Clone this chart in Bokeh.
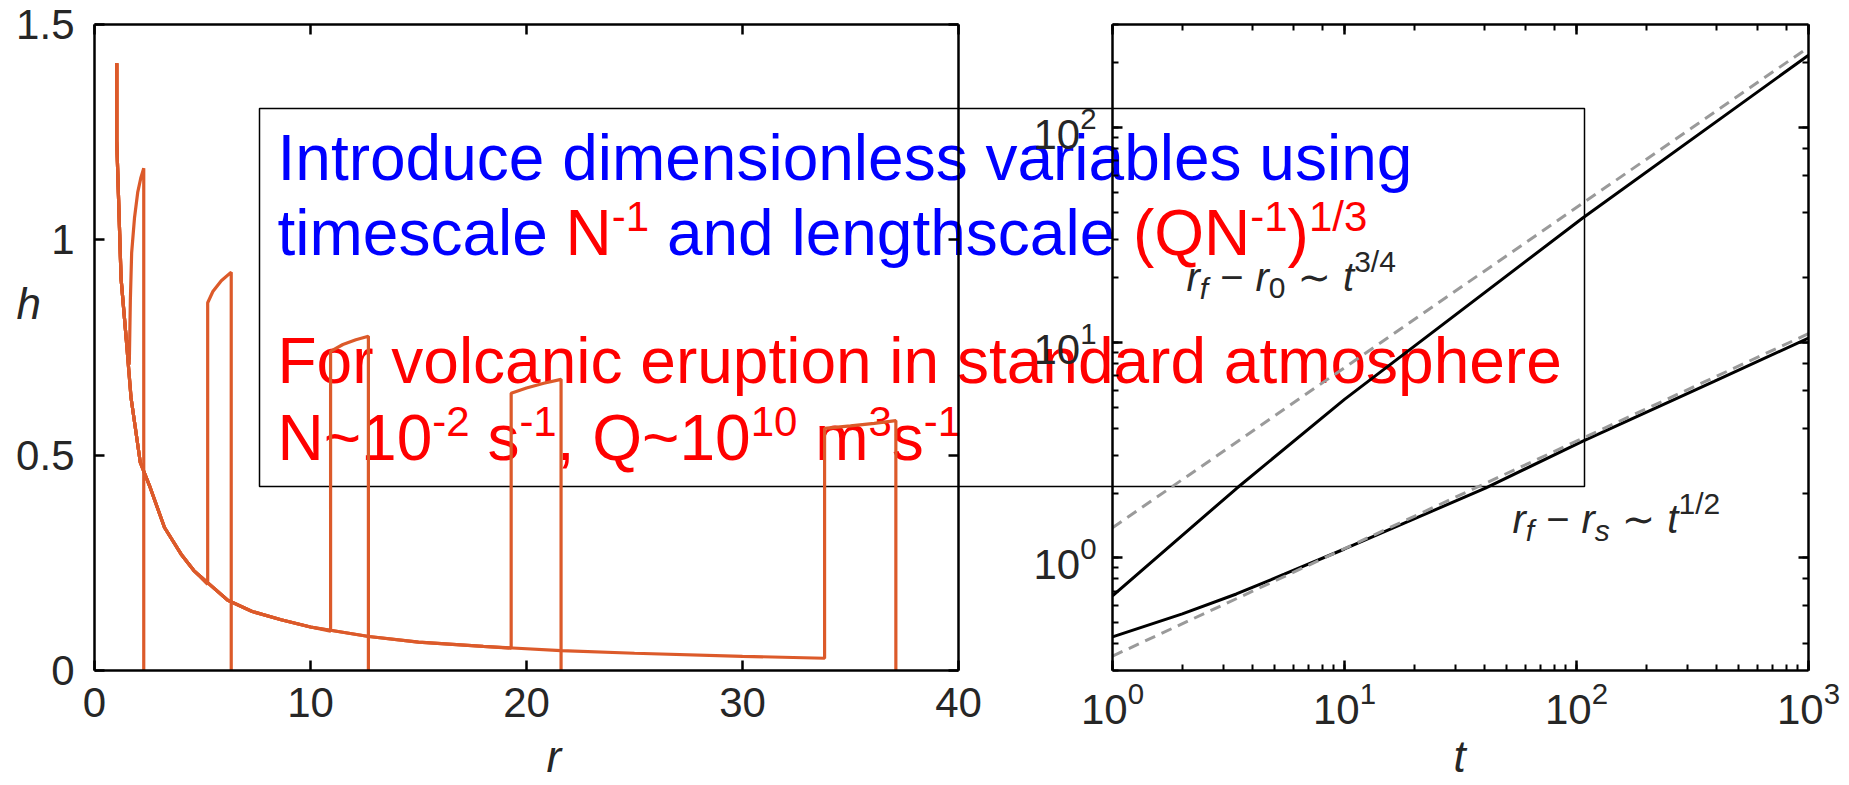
import math
from bokeh.plotting import figure
from bokeh.models import (Range1d, LinearAxis, LogAxis, LogTicker, FixedTicker,
                          Label, BoxAnnotation)
from bokeh.embed import file_html
from bokeh.resources import INLINE

# ---------------- left panel: thickness h against radius r ----------------
# outflow region shared by every snapshot (behind the shock)
tail_r = [1.03, 1.03, 1.23, 1.46, 1.69, 1.92, 2.12, 2.54, 3.24, 4.01, 4.6,
          6.17, 7.3, 8.64, 10.0, 12.7, 15.0, 18.0, 21.6, 25.0, 30.0]
tail_h = [1.41, 1.23, 0.91, 0.775, 0.634, 0.553, 0.483, 0.43, 0.332, 0.27, 0.232,
          0.163, 0.137, 0.118, 0.101, 0.079, 0.066, 0.056, 0.046, 0.040, 0.033]
# shock position of each snapshot
shock_r = [1.61, 5.24, 10.93, 19.29, 33.8]
# head of each snapshot: from the shock to the front
head1_r = [1.61, 1.66, 1.72, 1.85, 2.00, 2.15, 2.28, 2.28]
head1_h = [0.71, 0.86, 0.97, 1.05, 1.11, 1.145, 1.166, 0.0]
head2_r = [5.24, 5.24, 5.48, 5.87, 6.33, 6.33]
head2_h = [0.20, 0.854, 0.88, 0.905, 0.925, 0.0]
head3_r = [10.93, 10.93, 11.5, 12.1, 12.68, 12.68]
head3_h = [0.091, 0.741, 0.757, 0.768, 0.776, 0.0]
head4_r = [19.29, 19.29, 20.0, 20.8, 21.6, 21.6]
head4_h = [0.052, 0.644, 0.656, 0.667, 0.676, 0.0]
head5_r = [33.8, 33.8, 35.0, 36.1, 37.1, 37.1]
head5_h = [0.0285, 0.562, 0.568, 0.574, 0.580, 0.0]

r_ticks = [0, 10, 20, 30, 40]
h_ticks = [0, 0.5, 1, 1.5]
h_tick_labels = ["0", "0.5", "1", "1.5"]

# ---------------- right panel: lengths against time ----------------
t_front = [1, 3.42, 10, 106, 1000]
front_dist = [0.667, 2.10, 5.45, 37.8, 216]                   # r_f - r_0
t_head = [1, 2, 3.42, 5.5, 10, 40.5, 106, 392, 1000]
head_len = [0.43, 0.55, 0.68, 0.84, 1.10, 2.11, 3.48, 6.6, 10.5]  # r_f - r_s
t_ref = [1, 1000]
ref_34 = [1.38, 235]     # t^(3/4)
ref_12 = [0.35, 11.0]    # t^(1/2)

# ---------------- styling / geometry ----------------
ORANGE = "#DC5A2A"
GREY = "#9A9A9A"
INK = "#262626"
BLUE = "#0000FF"
RED = "#FF0000"
FONT = "Liberation Sans"
SYM = "DejaVu Sans"
TICK_SIZE = "42px"
BASE_FIX = 0.35             # lift applied to labels so the glyph baseline sits on y

W, H = 1849, 785
TOP, BOT = 24, 670          # frame top / bottom of both panels (page px)
L1, R1 = 94, 958            # left panel frame
L2, R2 = 1112, 1808         # right panel frame
B1, B2 = 150, 200           # fixed left borders of the two panel canvases

# Arial / Liberation Sans advance widths (1/1000 em); the tilde operator is DejaVu
ADV = {" ": 278, "(": 333, ")": 333, ",": 278, "-": 333, "/": 278, "~": 584,
       "\u2212": 584, "\u223c": 838,
       "a": 556, "b": 556, "c": 500, "d": 556, "e": 556, "f": 278, "g": 556,
       "h": 556, "i": 222, "l": 222, "m": 833, "n": 556, "o": 556, "p": 556,
       "r": 333, "s": 500, "t": 278, "u": 556, "v": 500,
       "F": 611, "I": 278, "N": 722, "Q": 778}
for d in "0123456789":
    ADV[d] = 556


def tw(s, size):
    return sum(ADV[c] for c in s) * size / 1000.0


def px2(X):
    return 10 ** ((X - L2) / (R2 - L2) * 3.0)


def py2(Y):
    return 10 ** (math.log10(0.3) + (BOT - Y) / (BOT - TOP) * 3.0)


def style_axis(ax, labels=True):
    ax.axis_line_width = 2.5
    ax.axis_line_color = "black"
    ax.major_tick_line_width = 2.5
    ax.major_tick_line_color = "black"
    ax.major_tick_in = 10
    ax.major_tick_out = 0
    ax.minor_tick_line_width = 2
    ax.minor_tick_line_color = "black"
    ax.minor_tick_in = 6
    ax.minor_tick_out = 0
    ax.major_label_text_font = FONT
    if labels:
        ax.major_label_text_color = INK
        ax.major_label_text_font_size = TICK_SIZE
    else:
        ax.major_label_text_color = None
        ax.major_label_text_font_size = "1px"


# ================= page layer: text box and axis names =================
p0 = figure(width=W, height=H, x_range=Range1d(0, W), y_range=Range1d(H, 0),
            output_backend="svg", toolbar_location=None, tools="",
            x_axis_location=None, y_axis_location=None,
            min_border_left=0, min_border_right=0, min_border_top=0,
            min_border_bottom=0, styles={"position": "absolute", "left": "0px",
                                         "top": "0px"})
p0.outline_line_color = None
p0.grid.visible = False
p0.background_fill_color = "white"
p0.border_fill_color = "white"

p0.add_layout(BoxAnnotation(left=259, right=1584, top=108, bottom=486,
                            fill_color=None, fill_alpha=0, line_color="black",
                            line_alpha=1.0, line_width=1.5))

MAIN, SUP, RISE = 64, 42, 24
box_lines = [
    (180, [("Introduce dimensionless variables using", BLUE, False)]),
    (255, [("timescale ", BLUE, False), ("N", RED, False), ("-1", RED, True),
           (" and lengthscale ", BLUE, False), ("(QN", RED, False),
           ("-1", RED, True), (")", RED, False), ("1/3", RED, True)]),
    (383, [("For volcanic eruption in standard atmosphere", RED, False)]),
    (460, [("N~10", RED, False), ("-2", RED, True), (" s", RED, False),
           ("-1", RED, True), (", Q~10", RED, False), ("10", RED, True),
           (" m", RED, False), ("3", RED, True), ("s", RED, False),
           ("-1", RED, True)]),
]
X0 = 277
for base, runs in box_lines:
    x = X0
    for text, color, sup in runs:
        size = SUP if sup else MAIN
        lead = len(text) - len(text.lstrip(" "))
        shown = text.strip(" ")
        y = base - (RISE if sup else 0) - BASE_FIX * size
        p0.add_layout(Label(x=x + tw(text[:lead], size), y=y, text=shown,
                            text_font=FONT, text_font_size=f"{size}px",
                            text_color=color, text_align="left",
                            text_baseline="alphabetic"))
        x += tw(text, size)

for txt, X, Y in [("h", 16, 318), ("r", 546, 771), ("t", 1453, 771)]:
    p0.add_layout(Label(x=X, y=Y - BASE_FIX * 44, text=txt, text_font=FONT,
                        text_font_style="italic", text_font_size="44px",
                        text_color=INK, text_align="left",
                        text_baseline="alphabetic"))

# ================= left panel =================
p1 = figure(width=B1 + (R1 - L1) + 40, height=H,
            x_range=Range1d(0, 40), y_range=Range1d(0, 1.5),
            output_backend="svg", toolbar_location=None, tools="",
            min_border_left=B1, min_border_right=40,
            min_border_top=TOP, min_border_bottom=H - BOT,
            styles={"position": "absolute", "left": f"{L1 - B1}px", "top": "0px"})
p1.outline_line_color = None
p1.grid.visible = False
p1.background_fill_color = None
p1.border_fill_color = None

ax = p1.xaxis[0]
style_axis(ax)
ax.ticker = FixedTicker(ticks=r_ticks)
ax.minor_tick_line_color = None
ax.major_label_standoff = 17
ax = p1.yaxis[0]
style_axis(ax)
ax.ticker = FixedTicker(ticks=h_ticks)
ax.minor_tick_line_color = None
ax.major_label_standoff = 20
ax.major_label_overrides = {k: v for k, v in zip(h_ticks, h_tick_labels)}

top1 = LinearAxis(ticker=FixedTicker(ticks=r_ticks))
style_axis(top1, labels=False)
top1.minor_tick_line_color = None
p1.add_layout(top1, "above")
right1 = LinearAxis(ticker=FixedTicker(ticks=h_ticks))
style_axis(right1, labels=False)
right1.minor_tick_line_color = None
p1.add_layout(right1, "right")

heads = [(head1_r, head1_h), (head2_r, head2_h), (head3_r, head3_h),
         (head4_r, head4_h), (head5_r, head5_h)]
for rs, (hr, hh) in zip(shock_r, heads):
    r = [x for x in tail_r if x < rs] + hr
    h = [y for x, y in zip(tail_r, tail_h) if x < rs] + hh
    p1.line(r, h, line_color=ORANGE, line_width=3.2)

# ================= right panel =================
p2 = figure(width=B2 + (R2 - L2) + (W - R2), height=H,
            x_axis_type="log", y_axis_type="log",
            x_range=Range1d(1, 1000), y_range=Range1d(0.3, 300),
            output_backend="svg", toolbar_location=None, tools="",
            min_border_left=B2, min_border_right=W - R2,
            min_border_top=TOP, min_border_bottom=H - BOT,
            styles={"position": "absolute", "left": f"{L2 - B2}px", "top": "0px"})
p2.outline_line_color = None
p2.grid.visible = False
p2.background_fill_color = None
p2.border_fill_color = None

style_axis(p2.xaxis[0])
p2.xaxis[0].major_label_standoff = 10
style_axis(p2.yaxis[0])
p2.yaxis[0].major_label_standoff = 16
top2 = LogAxis(ticker=LogTicker())
style_axis(top2, labels=False)
p2.add_layout(top2, "above")
right2 = LogAxis(ticker=LogTicker())
style_axis(right2, labels=False)
p2.add_layout(right2, "right")

p2.line(t_front, front_dist, line_color="black", line_width=3)
p2.line(t_head, head_len, line_color="black", line_width=3)
p2.line(t_ref, ref_34, line_color=GREY, line_width=3, line_dash="11 7")
p2.line(t_ref, ref_12, line_color=GREY, line_width=3, line_dash="11 7")

# scaling-law annotations: (text, size, shift of baseline, style, font)
LBL, SML, SYMS = 40, 30, 40
GAP = 0.3 * LBL
law_labels = [
    (1186, 290, [("r", LBL, 0, "italic", FONT), ("f", SML, -8, "italic", FONT), None,
                 ("\u2212", LBL, 0, "normal", FONT), None,
                 ("r", LBL, 0, "italic", FONT), ("0", SML, -8, "normal", FONT), None,
                 ("\u223c", SYMS, 0, "normal", SYM), None,
                 ("t", LBL, 0, "italic", FONT), ("3/4", SML, 19, "normal", FONT)]),
    (1512, 532, [("r", LBL, 0, "italic", FONT), ("f", SML, -8, "italic", FONT), None,
                 ("\u2212", LBL, 0, "normal", FONT), None,
                 ("r", LBL, 0, "italic", FONT), ("s", SML, -8, "italic", FONT), None,
                 ("\u223c", SYMS, 0, "normal", SYM), None,
                 ("t", LBL, 0, "italic", FONT), ("1/2", SML, 19, "normal", FONT)]),
]
for x, base, pieces in law_labels:
    for piece in pieces:
        if piece is None:
            x += GAP
            continue
        text, size, rise, style, font = piece
        p2.add_layout(Label(x=px2(x), y=py2(base - rise - BASE_FIX * size), text=text,
                            text_font=font, text_font_style=style,
                            text_font_size=f"{size}px", text_color=INK,
                            text_align="left", text_baseline="alphabetic"))
        x += tw(text, size)

open("out.html", "w").write(file_html([p0, p1, p2], INLINE))
